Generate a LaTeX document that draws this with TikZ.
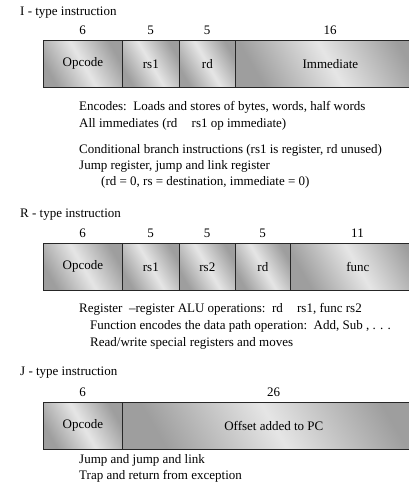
\documentclass[tikz,border=0pt]{standalone}
\usepackage{fontspec}
\setmainfont{Liberation Serif}

\tikzset{
  field/.style={draw=black!85, line width=0.7pt, minimum height=47pt, inner sep=0pt,
    anchor=north west, left color=black!38, right color=black!38,
    middle color=black!10, shading angle=120},
  bits/.style={inner sep=0pt},
  title/.style={anchor=west, inner sep=0pt},
  note/.style={anchor=west, inner sep=0pt}
}

\begin{document}
\begin{tikzpicture}[x=1pt,y=-1pt,font=\fontsize{13}{15}\selectfont]
        \useasboundingbox (0,0) rectangle (409,496);
        % I - type instruction
        \node[title] (ititle) at (20,13) {I - type instruction};
        \foreach \x/\w/\n/\lbl [count=\i] in {43/79/6/Opcode,122/57/5/rs1,179/56/5/rd,235/190/16/Immediate} {
            % Draw each field and its width
            \node[field, minimum width=\w pt] (i\i) at (\x,40) {\lbl};
            \node[bits] (ib\i) at (\x+\w/2,30) {\n};
        }
        \node[note] (inote1) at (79,107) {Encodes:\ \ Loads and stores of bytes, words, half words};
        \node[note] (inote2) at (79,124) {All immediates (rd\hspace{1.1em}rs1 op immediate)};
        \node[note] (inote3) at (79,150) {Conditional branch instructions (rs1 is register, rd unused)};
        \node[note] (inote4) at (79,166) {Jump register, jump and link register};
        \node[note] (inote5) at (101,182) {(rd = 0, rs = destination, immediate = 0)};
        % R - type instruction
        \node[title] (rtitle) at (20,215) {R - type instruction};
        \foreach \x/\w/\n/\lbl [count=\i] in {43/79/6/Opcode,122/57/5/rs1,179/56/5/rs2,235/55/5/rd,290/135/11/func} {
            \node[field, minimum width=\w pt] (r\i) at (\x,243) {\lbl};
            \node[bits] (rb\i) at (\x+\w/2,233) {\n};
        }
        \node[note] (rnote1) at (79,309) {Register\ \ --register ALU operations:\ \ rd\hspace{1.1em}rs1, func rs2};
        \node[note] (rnote2) at (90,326) {Function encodes the data path operation:\ \ Add, Sub , . . .};
        \node[note] (rnote3) at (90,343) {Read/write special registers and moves};
        % J - type instruction
        \node[title] (jtitle) at (20,373) {J - type instruction};
        \foreach \x/\w/\n/\lbl [count=\i] in {43/79/6/Opcode,122/303/26/Offset added to PC} {
            \node[field, minimum width=\w pt] (j\i) at (\x,402) {\lbl};
            \node[bits] (jb\i) at (\x+\w/2,392) {\n};
        }
        \node[note] (jnote1) at (79,460) {Jump and jump and link};
        \node[note] (jnote2) at (79,476) {Trap and return from exception};
\end{tikzpicture}
\end{document}
